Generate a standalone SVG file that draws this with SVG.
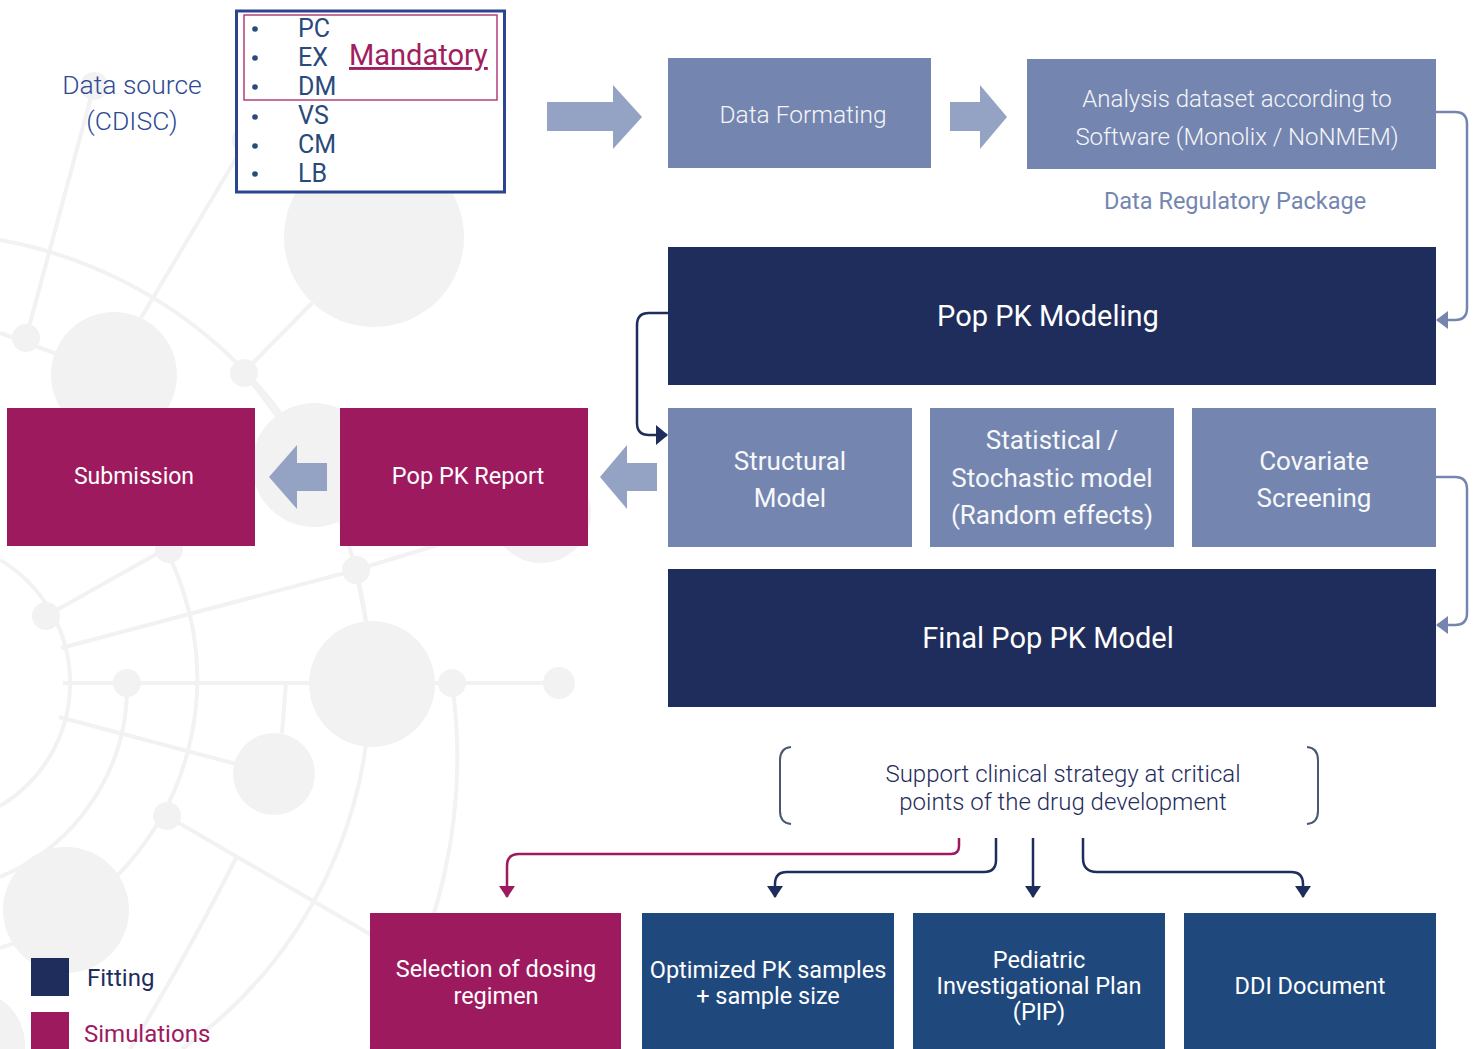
<svg xmlns="http://www.w3.org/2000/svg" width="1478" height="1049" viewBox="0 0 1478 1049">
<defs>
<style>
text{font-family:Roboto,"Liberation Sans",sans-serif;}
.bg-c{fill:#f2f2f2;}
.bg-l{fill:none;stroke:#f2f2f2;stroke-width:4;}
.mid{fill:#7486af;}
.navy{fill:#1f2d5c;}
.mag{fill:#9e1a5f;}
.blue{fill:#1f497d;}
.blk{fill:#94a3c3;}
.wt{fill:#ffffff;text-anchor:middle;}
.wt-l{fill:#f4f5f9;text-anchor:middle;font-weight:300;}
.wt-m{fill:#f7f8fb;text-anchor:middle;}
.list{fill:#2a4a7c;font-size:25px;}
.conn-n{fill:none;stroke:#1f2d5c;stroke-width:2.5;}
.conn-m{fill:none;stroke:#9e1a5f;stroke-width:2.5;}
.conn-l{fill:none;stroke:#7486af;stroke-width:2.5;}
.brk{fill:none;stroke:#4a5870;stroke-width:2;}
</style>
<marker id="ah-n" viewBox="0 0 12 16" refX="11" refY="8" markerWidth="12" markerHeight="16" markerUnits="userSpaceOnUse" orient="auto"><path d="M0,0 L12,8 L0,16 z" fill="#1f2d5c"/></marker>
<marker id="ah-n2" viewBox="0 0 12 20" refX="11" refY="10" markerWidth="12" markerHeight="20" markerUnits="userSpaceOnUse" orient="auto"><path d="M0,0 L12,10 L0,20 z" fill="#1f2d5c"/></marker>
<marker id="ah-m" viewBox="0 0 12 16" refX="11" refY="8" markerWidth="12" markerHeight="16" markerUnits="userSpaceOnUse" orient="auto"><path d="M0,0 L12,8 L0,16 z" fill="#9e1a5f"/></marker>
<marker id="ah-l" viewBox="0 0 12 18" refX="11" refY="9" markerWidth="12" markerHeight="18" markerUnits="userSpaceOnUse" orient="auto"><path d="M0,0 L12,9 L0,18 z" fill="#7486af"/></marker>
</defs>
<rect width="1478" height="1049" fill="#ffffff"/>

<g id="background">
<path class="bg-l" d="M 0,560 A 143 143 0 0 1 0,806"/>
<path class="bg-l" d="M 127,683 A 206 206 0 0 1 0,877"/>
<path class="bg-l" d="M 100,466 A 282 282 0 0 1 0,948"/>
<path class="bg-l" d="M 0,240 A 450 450 0 0 1 182,1049"/>
<path class="bg-l" d="M 452,683 A 530 530 0 0 1 370,1049"/>
<path class="bg-l" d="M 236,858 Q 190,950 130,1049"/>
<line class="bg-l" x1="63" y1="683" x2="559" y2="683"/>
<line class="bg-l" x1="46" y1="616" x2="169" y2="547"/>
<line class="bg-l" x1="61" y1="648" x2="356" y2="570"/>
<line class="bg-l" x1="356" y1="570" x2="366" y2="622"/>
<line class="bg-l" x1="356" y1="570" x2="541" y2="513"/>
<line class="bg-l" x1="59" y1="717" x2="274" y2="774"/>
<line class="bg-l" x1="282" y1="733" x2="286" y2="683"/>
<line class="bg-l" x1="167" y1="816" x2="380" y2="940"/>
<line class="bg-l" x1="94" y1="86" x2="26" y2="338"/>
<line class="bg-l" x1="247" y1="140" x2="141" y2="318"/>
<line class="bg-l" x1="312" y1="303" x2="244" y2="372"/>
<line class="bg-l" x1="244" y1="372" x2="314" y2="465"/>
<line class="bg-l" x1="0" y1="333" x2="114" y2="375"/>
<circle class="bg-c" cx="94" cy="86" r="14"/>
<circle class="bg-c" cx="247" cy="140" r="15"/>
<circle class="bg-c" cx="374" cy="237" r="90"/>
<circle class="bg-c" cx="26" cy="338" r="14"/>
<circle class="bg-c" cx="114" cy="375" r="63"/>
<circle class="bg-c" cx="244" cy="373" r="14"/>
<circle class="bg-c" cx="314" cy="465" r="62"/>
<circle class="bg-c" cx="541" cy="513" r="50"/>
<circle class="bg-c" cx="169" cy="549" r="14"/>
<circle class="bg-c" cx="356" cy="570" r="14"/>
<circle class="bg-c" cx="46" cy="616" r="14"/>
<circle class="bg-c" cx="127" cy="683" r="14"/>
<circle class="bg-c" cx="372" cy="684" r="63"/>
<circle class="bg-c" cx="452" cy="683" r="14"/>
<circle class="bg-c" cx="559" cy="683" r="16"/>
<circle class="bg-c" cx="274" cy="774" r="41"/>
<circle class="bg-c" cx="167" cy="816" r="14"/>
<circle class="bg-c" cx="66" cy="910" r="63"/>
<circle class="bg-c" cx="-30" cy="1045" r="55"/>
</g>

<g id="source-label">
<text x="132" y="94" font-size="26.5" fill="#2f4a94" text-anchor="middle" font-weight="300">Data source</text>
<text x="132" y="130" font-size="26.5" fill="#2f4a94" text-anchor="middle" font-weight="300">(CDISC)</text>
</g>

<g id="cdisc-list">
<rect x="236.5" y="11" width="268" height="181" fill="#ffffff" stroke="#2d4490" stroke-width="3"/>
<rect x="244" y="15" width="253" height="85" fill="none" stroke="#b0407a" stroke-width="1.5"/>
<g fill="#2a4a7c">
<circle cx="255" cy="29" r="2.8"/><circle cx="255" cy="58" r="2.8"/><circle cx="255" cy="87" r="2.8"/>
<circle cx="255" cy="117" r="2.8"/><circle cx="255" cy="146" r="2.8"/><circle cx="255" cy="174" r="2.8"/>
</g>
<text class="list" x="298" y="37">PC</text>
<text class="list" x="298" y="66">EX</text>
<text class="list" x="298" y="95">DM</text>
<text class="list" x="298" y="124">VS</text>
<text class="list" x="298" y="153">CM</text>
<text class="list" x="298" y="182">LB</text>
<text x="349" y="65" font-size="29" fill="#a0205f" text-decoration="underline">Mandatory</text>
</g>

<g id="block-arrows">
<polygon class="blk" points="547,102 613,102 613,85 642,117 613,149 613,131 547,131"/>
<polygon class="blk" points="950,102 980,102 980,85 1007,117 980,149 980,131 950,131"/>
<polygon class="blk" points="327,463 297,463 297,445 269,477 297,509 297,491 327,491"/>
<polygon class="blk" points="657,463 627,463 627,445 600,477 627,509 627,491 657,491"/>
</g>

<g id="node-data-formating">
<rect class="mid" x="668" y="58" width="263" height="110"/>
<text class="wt-l" x="803" y="123" font-size="24.5">Data Formating</text>
</g>

<g id="node-analysis-dataset">
<rect class="mid" x="1027" y="59" width="409" height="110"/>
<text class="wt-l" x="1237" y="107" font-size="24">Analysis dataset according to</text>
<text class="wt-l" x="1237" y="145" font-size="24">Software (Monolix / NoNMEM)</text>
</g>

<g id="label-regulatory">
<text x="1235" y="209" font-size="23.5" fill="#7486af" text-anchor="middle">Data Regulatory Package</text>
</g>

<g id="node-poppk-modeling">
<rect class="navy" x="668" y="247" width="768" height="138"/>
<text class="wt" x="1048" y="326" font-size="29">Pop PK Modeling</text>
</g>

<g id="node-structural">
<rect class="mid" x="668" y="408" width="244" height="139"/>
<text class="wt-m" x="790" y="470" font-size="26">Structural</text>
<text class="wt-m" x="790" y="507" font-size="26">Model</text>
</g>

<g id="node-statistical">
<rect class="mid" x="930" y="408" width="244" height="139"/>
<text class="wt-m" x="1052" y="449" font-size="26">Statistical /</text>
<text class="wt-m" x="1052" y="487" font-size="26">Stochastic model</text>
<text class="wt-m" x="1052" y="524" font-size="26">(Random effects)</text>
</g>

<g id="node-covariate">
<rect class="mid" x="1192" y="408" width="244" height="139"/>
<text class="wt-m" x="1314" y="470" font-size="26">Covariate</text>
<text class="wt-m" x="1314" y="507" font-size="26">Screening</text>
</g>

<g id="node-final-model">
<rect class="navy" x="668" y="569" width="768" height="138"/>
<text class="wt" x="1048" y="648" font-size="29">Final Pop PK Model</text>
</g>

<g id="node-report">
<rect class="mag" x="340" y="408" width="248" height="138"/>
<text class="wt" x="468" y="484" font-size="23.5">Pop PK Report</text>
</g>

<g id="node-submission">
<rect class="mag" x="7" y="408" width="248" height="138"/>
<text class="wt" x="134" y="484" font-size="23">Submission</text>
</g>

<g id="node-support">
<path class="brk" d="M 791,747 Q 780,748 780,760 L 780,811 Q 780,823 791,824"/>
<path class="brk" d="M 1307,747 Q 1318,748 1318,760 L 1318,811 Q 1318,823 1307,824"/>
<text x="1063" y="782" font-size="24" fill="#1f2d5c" text-anchor="middle" font-weight="300">Support clinical strategy at critical</text>
<text x="1063" y="810" font-size="24" fill="#1f2d5c" text-anchor="middle" font-weight="300">points of the drug development</text>
</g>

<g id="node-dosing">
<rect class="mag" x="370" y="913" width="251" height="140"/>
<text class="wt" x="496" y="977" font-size="23.5">Selection of dosing</text>
<text class="wt" x="496" y="1004" font-size="23.5">regimen</text>
</g>

<g id="node-optimized">
<rect class="blue" x="642" y="913" width="252" height="140"/>
<text class="wt" x="768" y="978" font-size="23.5">Optimized PK samples</text>
<text class="wt" x="768" y="1004" font-size="23.5">+ sample size</text>
</g>

<g id="node-pip">
<rect class="blue" x="913" y="913" width="252" height="140"/>
<text class="wt" x="1039" y="968" font-size="23.5">Pediatric</text>
<text class="wt" x="1039" y="994" font-size="23.5">Investigational Plan</text>
<text class="wt" x="1039" y="1020" font-size="23.5">(PIP)</text>
</g>

<g id="node-ddi">
<rect class="blue" x="1184" y="913" width="252" height="140"/>
<text class="wt" x="1310" y="994" font-size="23.5">DDI Document</text>
</g>

<g id="legend">
<rect class="navy" x="31" y="958" width="38" height="38"/>
<rect class="mag" x="31" y="1012" width="38" height="40"/>
<text x="87" y="986" font-size="24" fill="#1f2d5c">Fitting</text>
<text x="84" y="1042" font-size="24" fill="#9e1a5f">Simulations</text>
</g>

<g id="connectors">
<path class="conn-l" marker-end="url(#ah-l)" d="M 1436,112 H 1455 Q 1467,112 1467,124 V 308 Q 1467,320 1455,320 H 1437"/>
<path class="conn-l" marker-end="url(#ah-l)" d="M 1436,477 H 1455 Q 1467,477 1467,489 V 613 Q 1467,625 1455,625 H 1437"/>
<path class="conn-n" marker-end="url(#ah-n2)" d="M 668,313 H 649 Q 637,313 637,325 V 423 Q 637,435 649,435 H 667"/>
<path class="conn-m" marker-end="url(#ah-m)" d="M 959,838 V 846 Q 959,854 951,854 H 519 Q 507,854 507,866 V 897"/>
<path class="conn-n" marker-end="url(#ah-n)" d="M 996,838 V 860 Q 996,872 984,872 H 787 Q 775,872 775,884 V 897"/>
<path class="conn-n" marker-end="url(#ah-n)" d="M 1033,838 V 897"/>
<path class="conn-n" marker-end="url(#ah-n)" d="M 1083,838 V 858 Q 1083,872 1097,872 H 1291 Q 1303,872 1303,884 V 897"/>
</g>
</svg>
